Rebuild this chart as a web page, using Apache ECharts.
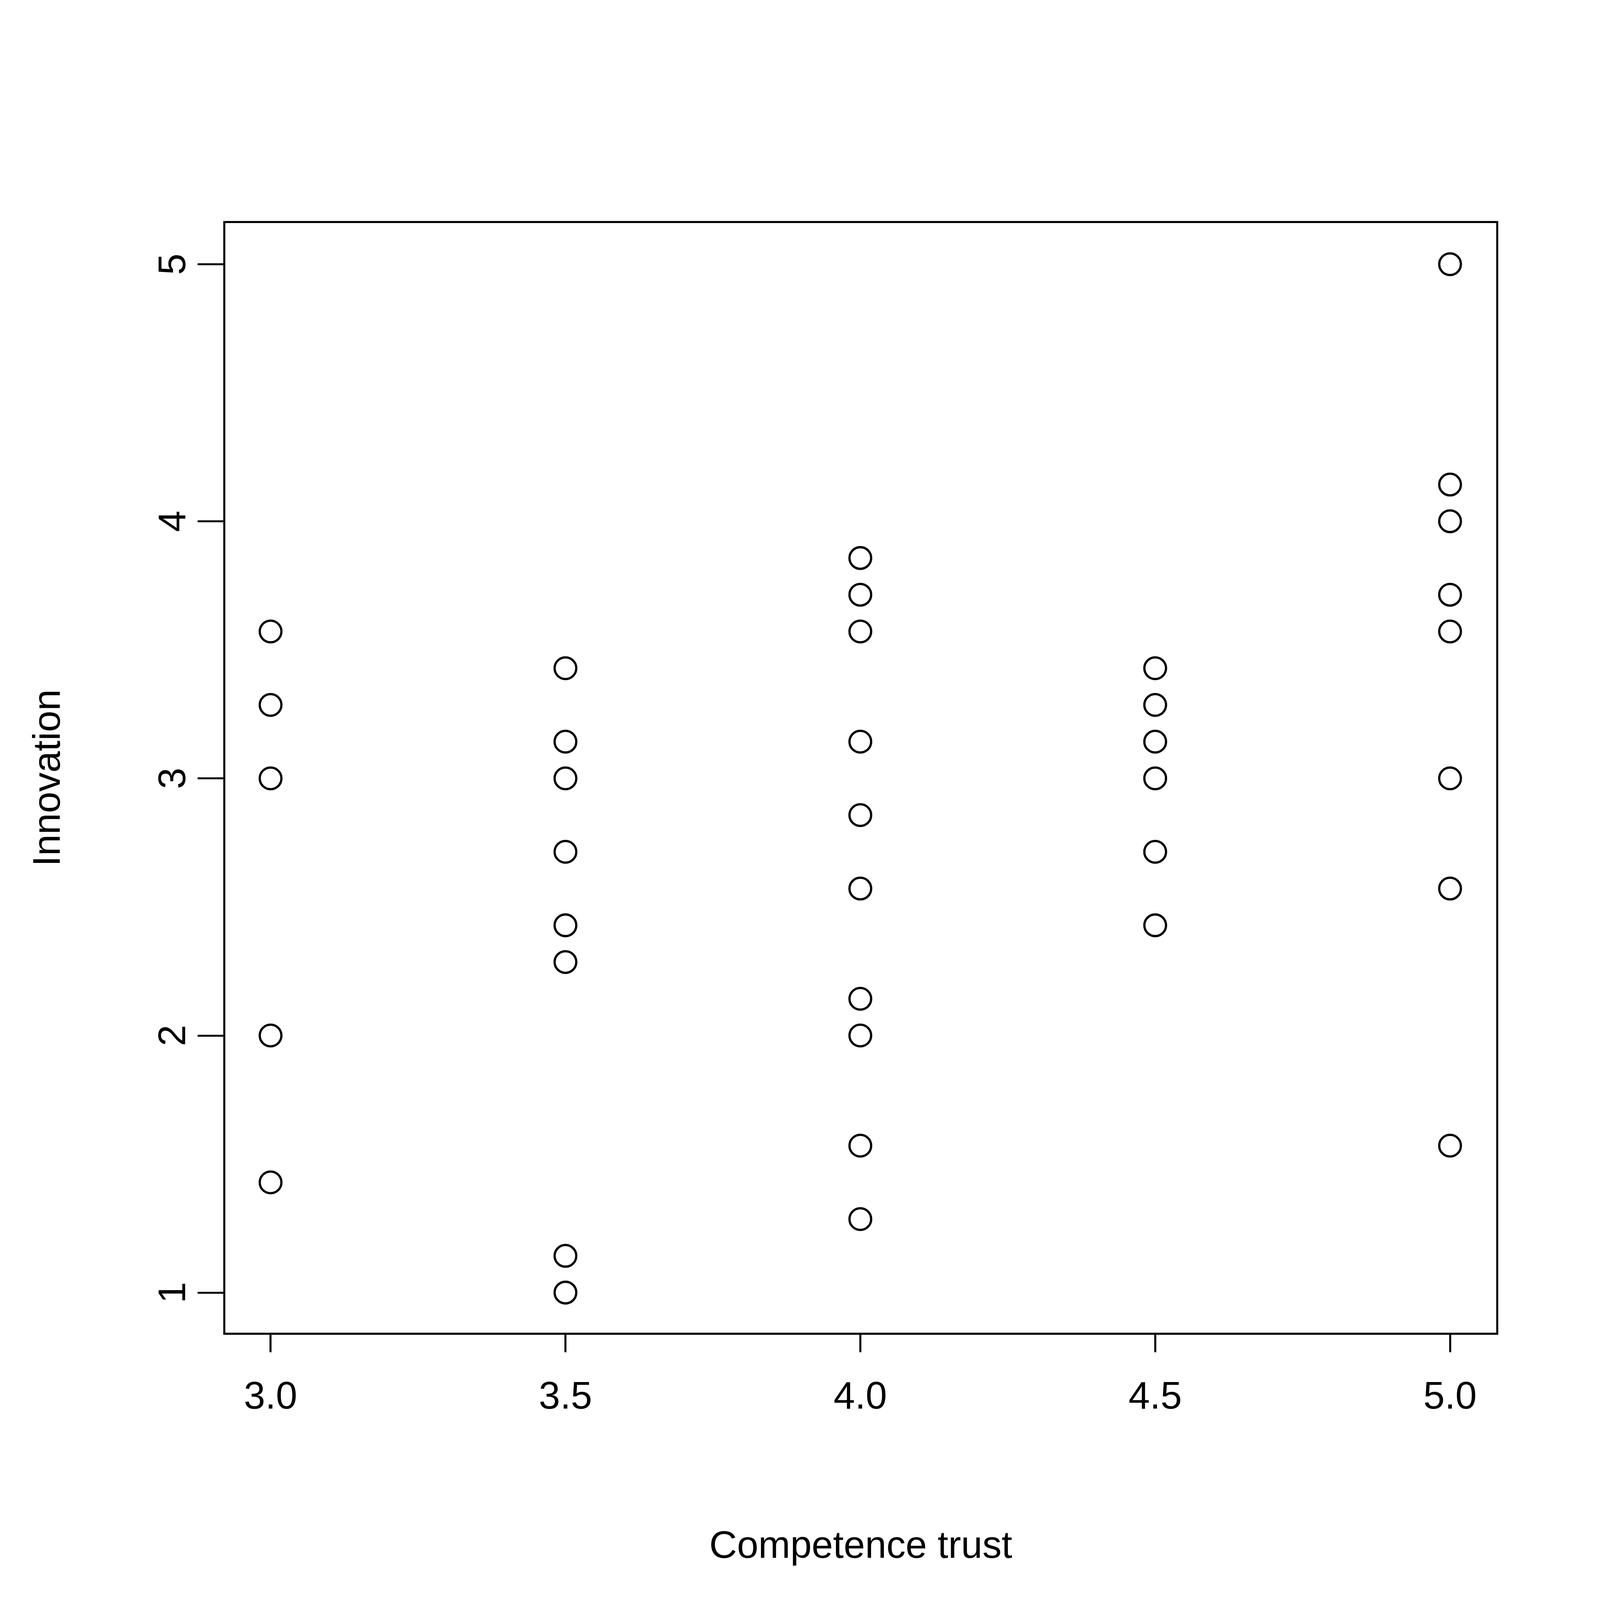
<!DOCTYPE html>
<html><head><meta charset="utf-8">
<script src="https://cdn.jsdelivr.net/npm/echarts@6/dist/echarts.min.js"></script>
<style>html,body{margin:0;padding:0;background:#fff;overflow:hidden}#c{width:100vw;height:100vh}</style>
</head><body><div id="c"></div>
<script>
const xTicks = [3, 3.5, 4, 4.5, 5];
const yTicks = [1, 2, 3, 4, 5];
const xVals = [3,3,3,3,3, 3.5,3.5,3.5,3.5,3.5,3.5,3.5,3.5, 4,4,4,4,4,4,4,4,4,4, 4.5,4.5,4.5,4.5,4.5,4.5, 5,5,5,5,5,5,5,5];
const yVals = [25/7,23/7,3,2,10/7, 24/7,22/7,3,19/7,17/7,16/7,8/7,1, 27/7,26/7,25/7,22/7,20/7,18/7,15/7,2,11/7,9/7, 24/7,23/7,22/7,3,19/7,17/7, 5,29/7,4,26/7,25/7,3,18/7,11/7];
const font = 'Liberation Sans, Arial, sans-serif';
const el = document.getElementById('c');
const s = Math.min(el.clientWidth, el.clientHeight) / 7084;
const chart = echarts.init(el);
chart.setOption({
  animation:false,
  backgroundColor:'#fff',
  grid:{left:993*s,right:455*s,top:983*s,bottom:1179*s,show:true,borderColor:'#000',borderWidth:9*s,backgroundColor:'transparent'},
  xAxis:{type:'value',min:2.9215,max:5.08,
    name:'Competence trust',nameLocation:'middle',nameGap:860*s,
    nameTextStyle:{fontSize:170*s,color:'#000',fontFamily:font},
    axisLine:{show:false},splitLine:{show:false},
    axisTick:{show:true,customValues:xTicks,length:82*s,lineStyle:{color:'#000',width:9*s}},
    axisLabel:{customValues:xTicks,formatter:v=>v.toFixed(1),fontSize:170*s,color:'#000',fontFamily:font,margin:200*s}},
  yAxis:{type:'value',min:0.84,max:5.164,
    name:'Innovation',nameLocation:'middle',nameGap:690*s,nameRotate:90,
    nameTextStyle:{fontSize:170*s,color:'#000',fontFamily:font},
    axisLine:{show:false},splitLine:{show:false},
    axisTick:{show:true,customValues:yTicks,length:118*s,lineStyle:{color:'#000',width:9*s}},
    axisLabel:{customValues:yTicks,rotate:90,fontSize:170*s,color:'#000',fontFamily:font,margin:220*s,align:'center',verticalAlign:'middle'}},
  series:[{type:'scatter',data:xVals.map((x,i)=>[x,yVals[i]]),symbol:'circle',symbolSize:96*s,
    itemStyle:{color:'transparent',borderColor:'#000',borderWidth:10*s,opacity:1}}]
});
</script></body></html>
